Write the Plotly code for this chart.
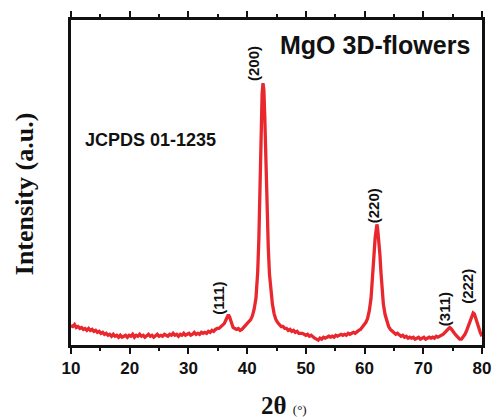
import plotly.graph_objects as go

two_theta = [
    10.0, 10.3, 10.6, 10.9, 11.2, 11.5, 11.8, 12.1, 12.4, 12.7, 13.0, 13.3, 13.6, 13.9, 14.2, 14.5, 14.8,
    15.1, 15.4, 15.7, 16.0, 16.3, 16.6, 16.9, 17.2, 17.5, 17.8, 18.1, 18.4, 18.7, 19.0, 19.3, 19.6, 19.9,
    20.2, 20.5, 20.8, 21.1, 21.4, 21.7, 22.0, 22.3, 22.6, 22.9, 23.2, 23.5, 23.8, 24.1, 24.4, 24.7,
    25.0, 25.3, 25.6, 25.9, 26.2, 26.5, 26.8, 27.1, 27.4, 27.7, 28.0, 28.3, 28.6, 28.9, 29.2, 29.5, 29.8,
    30.1, 30.4, 30.7, 31.0, 31.3, 31.6, 31.9, 32.2, 32.5, 32.8, 33.1, 33.4, 33.7, 34.0, 34.3, 34.6, 34.9,
    35.2, 35.5, 35.8, 36.1, 36.4, 36.6, 36.8, 37.0, 37.2, 37.4, 37.6, 37.9, 38.2, 38.5, 38.8, 39.1, 39.4,
    39.7, 40.0, 40.3, 40.6, 40.9, 41.2, 41.5, 41.8, 42.0, 42.2, 42.4, 42.55, 42.7, 42.85, 43.0, 43.2,
    43.4, 43.6, 43.8, 44.0, 44.3, 44.6, 44.9, 45.2, 45.5, 45.8, 46.1, 46.4, 46.7, 47.0, 47.3, 47.6, 47.9,
    48.2, 48.5, 48.8, 49.1, 49.4, 49.7, 50.0, 50.3, 50.6, 50.9, 51.2, 51.5, 51.8, 52.1, 52.4, 52.7,
    53.0, 53.3, 53.6, 53.9, 54.2, 54.5, 54.8, 55.1, 55.4, 55.7, 56.0, 56.3, 56.6, 56.9, 57.2, 57.5, 57.8,
    58.1, 58.4, 58.7, 59.0, 59.3, 59.6, 59.9, 60.2, 60.5, 60.8, 61.1, 61.4, 61.6, 61.8, 62.0, 62.1,
    62.2, 62.4, 62.6, 62.8, 63.0, 63.2, 63.5, 63.8, 64.1, 64.4, 64.7, 65.0, 65.3, 65.6, 65.9, 66.2,
    66.5, 66.8, 67.1, 67.4, 67.7, 68.0, 68.3, 68.6, 68.9, 69.2, 69.5, 69.8, 70.1, 70.4, 70.7, 71.0,
    71.3, 71.6, 71.9, 72.2, 72.5, 72.8, 73.1, 73.4, 73.7, 74.0, 74.3, 74.5, 74.7, 75.0, 75.3, 75.6,
    75.9, 76.2, 76.5, 76.8, 77.1, 77.4, 77.7, 78.0, 78.3, 78.5, 78.7, 78.9, 79.1, 79.3, 79.5, 79.7, 80.0,
]

intensity = [
    20, 19, 21, 18, 19, 17, 18, 16, 17, 15, 17, 15, 16, 14, 15, 13, 14,
    12, 13, 11, 12, 10, 11, 9, 11, 9, 10, 8, 10, 8, 9, 10, 8, 10,
    9, 11, 8, 10, 9, 11, 9, 10, 8, 10, 11, 9, 10, 8, 10, 11,
    9, 10, 9, 11, 10, 9, 11, 10, 12, 10, 11, 9, 11, 10, 12, 10, 11,
    12, 10, 11, 13, 11, 12, 11, 13, 12, 13, 12, 14, 13, 15, 14, 16, 17,
    17, 19, 20, 22, 26, 29, 31, 29, 25, 21, 18, 17, 16, 17, 15, 16, 18,
    19, 21, 23, 26, 30, 37, 48, 75, 110, 165, 225, 258, 269, 262, 235, 185,
    138, 100, 73, 56, 42, 32, 26, 23, 21, 19, 19, 17, 17, 15, 16, 14, 15,
    13, 14, 12, 12, 12, 11, 10, 11, 9, 10, 8, 7, 6, 5, 7, 6,
    8, 7, 8, 9, 8, 9, 8, 10, 9, 10, 11, 10, 11, 10, 12, 11, 12,
    13, 12, 14, 15, 16, 18, 20, 23, 27, 35, 48, 70, 92, 110, 122, 124,
    121, 110, 94, 74, 56, 42, 31, 24, 19, 16, 14, 13, 11, 12, 10, 9,
    10, 8, 9, 7, 8, 7, 8, 6, 7, 8, 6, 7, 8, 6, 7, 8,
    7, 8, 7, 9, 8, 9, 10, 11, 13, 15, 17, 18, 17, 14, 12, 10,
    8, 6, 6, 8, 11, 15, 20, 26, 31, 33, 32, 28, 23, 19, 15, 13, 9,
]

peak_labels = ["(111)", "(200)", "(220)", "(311)", "(222)"]
label_x = [35.2, 41.2, 61.5, 73.55, 77.4]
label_y = [48.5, 289, 143, 37, 60.5]

x_ticks = [10, 20, 30, 40, 50, 60, 70, 80]
x_range = [10, 80]

W, H = 502, 420
L, R, T, B = 71, 11, 11, 75
PW, PH = W - L - R, H - T - B
y_range = [0, PH]


def px(xp):
    return (xp - L) / PW


def py(yp):
    return (H - B - yp) / PH


fig = go.Figure()
fig.add_trace(go.Scatter(
    x=two_theta, y=intensity, mode="lines",
    line=dict(color="#E8282E", width=3.3),
    hoverinfo="skip", showlegend=False,
))

for t, xx, yy in zip(peak_labels, label_x, label_y):
    fig.add_annotation(
        x=xx, y=yy, xref="x", yref="y", text="<b>" + t + "</b>", textangle=-90,
        showarrow=False, xanchor="center", yanchor="middle",
        font=dict(family="Liberation Sans, Arial", size=15, color="#111111"),
    )

fig.add_annotation(
    x=px(382), y=py(37), xref="paper", yref="paper", text="<b>MgO 3D-flowers</b>",
    showarrow=False, xanchor="center", yanchor="middle",
    font=dict(family="Liberation Sans, Arial", size=25, color="#111111"),
)
fig.add_annotation(
    x=px(152), y=py(134), xref="paper", yref="paper", text="<b>JCPDS 01-1235</b>",
    showarrow=False, xanchor="center", yanchor="middle",
    font=dict(family="Liberation Sans, Arial", size=18, color="#111111"),
)
fig.add_annotation(
    x=px(289), y=py(407), xref="paper", yref="paper",
    text="<b>2θ</b> <span style='font-size:13px'>(°)</span>",
    showarrow=False, xanchor="center", yanchor="middle",
    font=dict(family="Liberation Serif, Times New Roman", size=25, color="#111111"),
)
fig.add_annotation(
    x=px(23), y=py(190), xref="paper", yref="paper", text="<b>Intensity (a.u.)</b>",
    textangle=-90, showarrow=False, xanchor="center", yanchor="middle",
    font=dict(family="Liberation Serif, Times New Roman", size=26, color="#111111"),
)

fig.update_layout(
    width=W, height=H, margin=dict(l=L, r=R, t=T, b=B),
    paper_bgcolor="white", plot_bgcolor="white",
    xaxis=dict(
        range=x_range, tickvals=x_ticks, ticktext=[str(v) for v in x_ticks],
        ticks="outside", ticklen=6, tickwidth=2, tickcolor="#111111",
        minor=dict(dtick=5, tick0=10, ticks="outside", ticklen=3, tickwidth=2, tickcolor="#111111"),
        showline=True, linewidth=3, linecolor="#111111", mirror="all",
        showgrid=False, zeroline=False,
        tickfont=dict(family="Liberation Sans, Arial", size=17, color="#111111", weight="bold"),
    ),
    yaxis=dict(
        range=y_range, showticklabels=False, ticks="",
        showline=True, linewidth=3, linecolor="#111111", mirror="all",
        showgrid=False, zeroline=False,
    ),
)

fig.write_html("out.html")
